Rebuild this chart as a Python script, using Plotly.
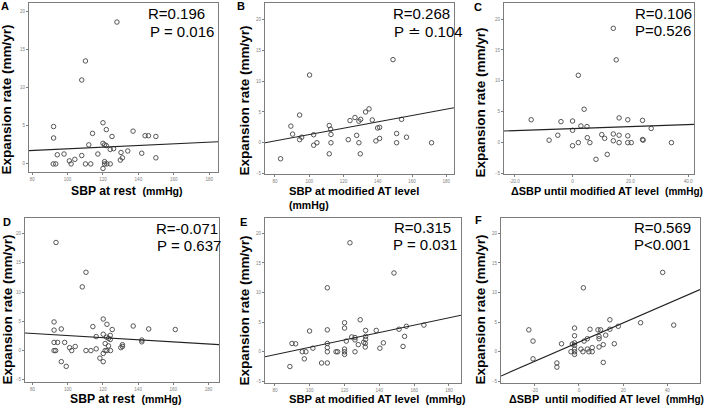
import plotly.graph_objects as go

# ---------------- data ----------------
A_x = [127.9,110.1,108.0,92.1,92.1,120.0,121.9,114.1,125.1,137.0,143.8,145.7,149.9,112.0,120.0,
       120.9,121.9,126.0,124.1,94.2,98.0,108.0,117.1,130.2,134.0,141.9,104.1,101.0,131.0,129.8,
       149.9,120.9,91.9,93.3,102.0,110.1,113.1,120.9,122.2,124.1,120.0]
A_y = [18.6,13.5,11.0,4.9,3.4,5.4,4.5,4.0,3.6,4.3,3.7,3.7,3.6,2.5,2.7,
       2.5,2.4,2.0,1.9,1.2,1.3,1.1,1.3,1.5,1.7,1.4,0.6,0.4,0.8,0.5,
       0.8,0.3,0,0,0,0,0,0,0,0,-0.6]

B_x = [148.9,100.2,94.4,89.3,90.3,95.6,94.4,83.3,102.6,102.6,104.5,111.7,112.5,112.7,112.7,
       111.7,123.8,126.7,129.0,130.0,132.9,134.9,136.8,127.7,122.8,129.0,129.8,139.9,141.1,138.9,
       141.1,151.0,151.0,153.9,156.8,171.4]
B_y = [13.5,11.0,4.5,2.7,1.4,0.9,0.5,-2.6,1.3,-0.4,0,2.8,2.2,1.35,0,
       -1.8,3.6,4.1,3.5,3.8,5.0,5.5,3.7,1.2,0.5,0,-1.8,2.4,2.5,0.3,
       0.7,1.5,0,3.8,0.9,0]

C_x = [14.1,15.1,2.0,4.0,-14.3,-4.0,0,0,2.9,5.0,-5.1,-8.1,0,2.0,5.1,
       6.0,10.1,11.1,14.1,14.1,16.1,16.1,16.1,19.1,19.1,19.1,20.3,12.0,8.1,24.2,
       24.2,24.4,27.2,34.2]
C_y = [18.5,13.4,10.9,5.4,3.7,3.4,3.5,2.0,2.7,2.6,1.2,0.4,-0.5,0,0.8,
       0,1.3,0.7,1.4,0.3,4.0,1.2,0,3.7,1.1,0,0,-1.9,-2.7,3.6,
       0.5,0.4,2.3,0]

D_x = [93.4,110.4,108.3,92.3,92.3,96.4,92.3,94.3,98.3,92.3,93.2,101.1,102.3,104.3,96.4,
       99.2,110.4,113.2,114.3,116.2,116.2,118.3,120.2,120.2,122.3,120.2,122.1,123.2,124.2,124.2,
       125.3,121.3,123.2,120.2,121.3,122.3,124.3,130.2,131.1,131.1,137.2,142.1,142.1,146.0,161.1]
D_y = [18.5,13.4,10.9,4.9,3.5,3.7,1.4,1.4,1.4,0,0,0.5,0,0.7,-1.9,
       -2.7,0,0,4.1,2.4,0.3,-1.3,-1.9,5.4,4.5,2.8,2.3,2.1,2.6,1.9,
       3.6,1.2,0.8,-0.5,0,0,0,0.5,1.0,0.7,4.2,1.8,1.5,3.7,3.6]

E_x = [123.1,148.4,110.1,120.0,120.0,129.0,99.9,110.1,89.8,91.9,95.7,97.8,96.9,88.6,101.8,
       106.8,110.1,110.1,110.1,110.1,115.1,116.0,120.0,120.0,120.0,121.0,124.1,126.0,126.0,126.0,
       127.9,131.0,131.9,131.9,132.1,132.1,132.1,138.2,140.3,142.3,151.3,154.5,153.6,155.5,165.6]
E_y = [18.4,13.3,10.8,4.9,4.0,5.4,3.5,3.7,1.4,1.35,0,0,-1.2,-2.5,0.6,
       -1.9,-1.9,0,0.7,1.4,0,0,0.45,0,-0.45,1.8,2.5,2.4,2.0,0,
       1.2,1.6,1.4,0.8,3.6,2.6,2.1,3.6,0.6,1.5,3.8,2.6,0.9,4.3,4.5]

F_x = [37.9,2.0,42.9,27.9,14.0,14.0,17.8,12.1,9.8,8.6,5.0,3.8,2.3,9.1,9.1,
       -2.0,-2.0,-2.0,-3.0,-2.0,-2.0,-2.0,-2.0,-3.6,-7.9,-22.7,-20.8,-20.8,-10.0,-10.0,
       0.9,1.8,3.8,4.5,6.0,6.0,9.1,11.0,16.0,11.0]
F_y = [13.4,10.8,4.5,4.9,5.4,3.8,4.3,2.8,3.7,3.7,3.8,2.2,1.8,2.2,2.6,
       4.0,2.7,1.5,1.3,1.1,0.45,0,-0.45,0,1.35,3.7,1.8,-1.2,-1.9,-2.6,
       0.45,0,0.45,0,0,0.7,0.8,1.2,1.35,-1.8]

# regression lines (slope, intercept) as drawn in the picture
line_slopes = [0.0108, 0.0515, 0.0164, -0.018, 0.0623, 0.162]
line_intercepts = [0.90, -3.82, 2.27, 4.36, -5.47, 1.62]

panel_letters = ["A", "B", "C", "D", "E", "F"]
r_texts = ["R=0.196", "R=0.268", "R=0.106", "R=-0.071", "R=0.315", "R=0.569"]
p_texts = ["P = 0.016", "P \u2250 0.104", "P=0.526", "P = 0.637", "P = 0.031", "P<0.001"]
x_titles = ["SBP at rest", "SBP at modified AT level", "\u0394SBP until modified AT level",
            "SBP at rest", "SBP at modified AT level", "\u0394SBP  until modified AT level"]
y_title = "Expansion rate"
unit_x = "(mmHg)"
unit_y = "(mm/yr)"

sbp_ticks = [80, 100, 120, 140, 160, 180]
sbp_labels = ["80", "100", "120", "140", "160", "180"]
dC_ticks = [-20, 0, 20, 40]
dC_labels = ["-20.0", "0", "20.0", "40.0"]
dF_ticks = [-20, 0, 20, 40]
dF_labels = ["-20", "0", "20", "40"]
yA_ticks = [0, 5, 10, 15, 20]
y_ticks = [-5, 0, 5, 10, 15, 20]

# ---------------- layout helpers ----------------
W, H = 709, 410
def px(x):
    return x / W
def py(y):
    return 1 - y / H

series = [(A_x, A_y), (B_x, B_y), (C_x, C_y), (D_x, D_y), (E_x, E_y), (F_x, F_y)]
boxes = [(29, 218, 3, 173), (265, 454, 3, 175), (504, 694, 3, 175),
         (25, 219, 219, 384), (265, 461, 219, 385), (501, 700, 219, 385)]
xranges = [[78.2, 185], [74.2, 184.5], [-23.7, 42], [75.8, 185.9], [74.3, 186.9], [-35.3, 54.8]]
yranges = [[-1.08, 21.1], [-5.1, 22.7], [-5.1, 22.6], [-5.4, 22.7], [-5.3, 22.6], [-5.3, 22.6]]
xtickvals = [sbp_ticks, sbp_ticks, dC_ticks, sbp_ticks, sbp_ticks, dF_ticks]
xticktext = [sbp_labels, sbp_labels, dC_labels, sbp_labels, sbp_labels, dF_labels]
ytickvals = [yA_ticks, y_ticks, y_ticks, y_ticks, y_ticks, y_ticks]

FONT = "Liberation Sans, Arial, Helvetica, sans-serif"
AXC = "#7d7d7d"
TICKC = "#808080"

fig = go.Figure()
layout = dict(width=W, height=H, margin=dict(l=0, r=0, t=0, b=0),
              paper_bgcolor="white", plot_bgcolor="white", showlegend=False,
              font=dict(family=FONT, color="black"))
annotations = []

for i, ((xs, ys), (x0, x1, y0, y1)) in enumerate(zip(series, boxes)):
    n = "" if i == 0 else str(i + 1)
    xa, ya = "x" + n, "y" + n
    fig.add_trace(go.Scatter(x=xs, y=ys, mode="markers", xaxis=xa, yaxis=ya,
                             marker=dict(symbol="circle-open", size=4.5,
                                         color="#444444", line=dict(width=0.9))))
    xr = xranges[i]
    fig.add_trace(go.Scatter(x=xr, y=[line_intercepts[i] + line_slopes[i] * v for v in xr],
                             mode="lines", xaxis=xa, yaxis=ya,
                             line=dict(color="#222222", width=1.1)))
    layout["xaxis" + n] = dict(domain=[px(x0), px(x1)], range=xr, anchor=ya,
                               showgrid=False, zeroline=False, showline=True, mirror=True,
                               linecolor=AXC, linewidth=1, ticks="outside", ticklen=2,
                               tickcolor=AXC, tickwidth=1, tickvals=xtickvals[i],
                               ticktext=xticktext[i],
                               tickfont=dict(size=4.5, color=TICKC))
    layout["yaxis" + n] = dict(domain=[py(y1), py(y0)], range=yranges[i], anchor=xa,
                               showgrid=False, zeroline=False, showline=True, mirror=True,
                               linecolor=AXC, linewidth=1, ticks="outside", ticklen=2,
                               tickcolor=AXC, tickwidth=1, tickvals=ytickvals[i],
                               tickfont=dict(size=4.5, color=TICKC))

# ---------------- text ----------------
letter_pos = [(5, 6), (241, 6), (478, 7), (7, 223), (243, 223), (479, 221)]
r_pos = [(147, 14), (392, 14), (634, 14), (155, 230), (393, 229), (633, 229)]
p_pos = [(149, 32), (393, 32), (634, 31), (156, 247), (392, 246), (633, 246)]
ytitle_pos = [(7, 100), (245, 101), (480, 103), (7, 311), (244, 312), (480, 311)]
xtitle_pos = [(70, 192), (288, 192), (510, 192), (69, 401), (288, 401), (508, 401)]
xtitle_size = [12.2, 11.2, 10.9, 12.2, 11.2, 10.9]
unit_size = [10.6, 10.5, 10.0, 10.6, 10.6, 10.0]

def ann(x, y, text, size, xanchor="center", angle=0, color="black"):
    annotations.append(dict(x=px(x), y=py(y), xref="paper", yref="paper", text=text,
                            showarrow=False, xanchor=xanchor, yanchor="middle", borderpad=0,
                            textangle=angle, font=dict(size=size, family=FONT, color=color)))

for i in range(6):
    ann(*letter_pos[i], "<b>%s</b>" % panel_letters[i], 11)
    ann(*r_pos[i], r_texts[i], 15, xanchor="left")
    ann(*p_pos[i], p_texts[i], 15, xanchor="left")
    ann(*ytitle_pos[i], "<b>%s </b><b>%s</b>" % (y_title, unit_y), 13.5, angle=-90)
    if i == 1:
        ann(*xtitle_pos[i], "<b>%s</b>" % x_titles[i], xtitle_size[i], xanchor="left")
        ann(288, 206, "<b>%s</b>" % unit_x, unit_size[i], xanchor="left")
    else:
        ann(*xtitle_pos[i], "<b>%s</b>\u00a0\u00a0<span style='font-size:%spx'><b>%s</b></span>"
            % (x_titles[i], unit_size[i], unit_x), xtitle_size[i], xanchor="left")

layout["annotations"] = annotations
fig.update_layout(**layout)
fig.write_html("out.html", config={"displayModeBar": False},
               post_script="document.body.style.margin='0';document.body.style.padding='0';")
